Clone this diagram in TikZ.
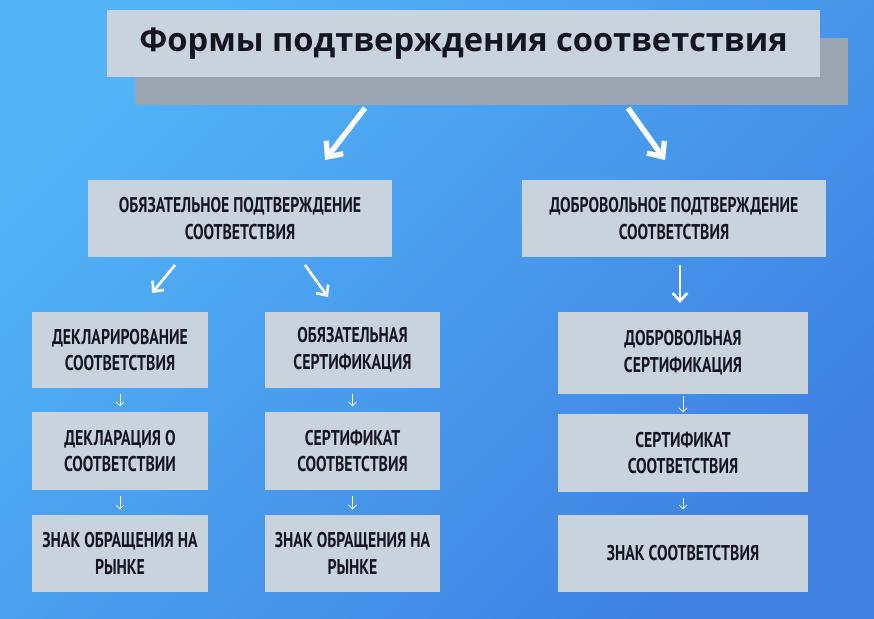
\documentclass[tikz,border=0pt]{standalone}
\usepackage{fontspec}
\setmainfont{PT Sans}[FakeStretch=0.74]
\newfontfamily\titlefont{Open Sans}
\usetikzlibrary{arrows.meta}
\definecolor{boxgray}{HTML}{C9D3DD}
\definecolor{shadowgray}{HTML}{9AA5B1}
\definecolor{bgtop}{HTML}{52B3F7}
\definecolor{bgbot}{HTML}{3F82E2}
\definecolor{inkdark}{HTML}{15151F}

\begin{document}
\begin{tikzpicture}[x=0.75pt,y=-0.75pt,
  box/.style={fill=boxgray,text=inkdark,font=\bfseries\fontsize{16}{20}\selectfont,align=center,inner sep=0pt},
  bigarrow/.style={draw=white,line width=4pt,-{Straight Barb[length=9pt,width=16pt]}},
  midarrow/.style={draw=white,line width=2pt,-{Straight Barb[length=6pt,width=11pt]}},
  smallarrow/.style={draw=white,line width=0.6pt,-{Straight Barb[length=3pt,width=6pt]}}]
\shade[left color=bgtop,right color=bgbot,shading angle=45] (0,0) rectangle (874,618);
\useasboundingbox (0,0) rectangle (874,618);
% title
\fill[shadowgray] (135,38) rectangle (848,105);
\node[box,minimum width=713*0.75pt,minimum height=67*0.75pt,font=\titlefont\bfseries\fontsize{24.5}{28}\selectfont] (title) at (463.5,43.5) {Формы подтверждения соответствия};
% second level
\node[box,minimum width=304*0.75pt,minimum height=77*0.75pt] (obyaz) at (240,218.5) {ОБЯЗАТЕЛЬНОЕ ПОДТВЕРЖДЕНИЕ\\СООТВЕТСТВИЯ};
\node[box,minimum width=304*0.75pt,minimum height=77*0.75pt] (dobr) at (674,218.5) {ДОБРОВОЛЬНОЕ ПОДТВЕРЖДЕНИЕ\\СООТВЕТСТВИЯ};
% columns
\node[box,minimum width=176*0.75pt,minimum height=76*0.75pt] (decl) at (120,350) {ДЕКЛАРИРОВАНИЕ\\СООТВЕТСТВИЯ};
\node[box,minimum width=176*0.75pt,minimum height=78*0.75pt] (declz) at (120,451) {ДЕКЛАРАЦИЯ О\\СООТВЕТСТВИИ};
\node[box,minimum width=176*0.75pt,minimum height=77*0.75pt] (znak1) at (120,553.5) {ЗНАК ОБРАЩЕНИЯ НА\\РЫНКЕ};
\node[box,minimum width=175*0.75pt,minimum height=76*0.75pt] (osert) at (352.5,350) {ОБЯЗАТЕЛЬНАЯ\\СЕРТИФИКАЦИЯ};
\node[box,minimum width=175*0.75pt,minimum height=78*0.75pt] (sert1) at (352.5,451) {СЕРТИФИКАТ\\СООТВЕТСТВИЯ};
\node[box,minimum width=175*0.75pt,minimum height=77*0.75pt] (znak2) at (352.5,553.5) {ЗНАК ОБРАЩЕНИЯ НА\\РЫНКЕ};
\node[box,minimum width=250*0.75pt,minimum height=82*0.75pt] (dsert) at (683,353) {ДОБРОВОЛЬНАЯ\\СЕРТИФИКАЦИЯ};
\node[box,minimum width=250*0.75pt,minimum height=78*0.75pt] (sert2) at (683,453) {СЕРТИФИКАТ\\СООТВЕТСТВИЯ};
\node[box,minimum width=250*0.75pt,minimum height=77*0.75pt] (znak3) at (683,553.5) {ЗНАК СООТВЕТСТВИЯ};
% arrows
\coordinate (a1) at (365,108); \coordinate (a2) at (325,160);
\coordinate (b1) at (628,108); \coordinate (b2) at (665,160);
\draw[bigarrow] (a1) -- (a2);
\draw[bigarrow] (b1) -- (b2);
\coordinate (c1) at (175,265); \coordinate (c2) at (152,293);
\coordinate (d1) at (305,265); \coordinate (d2) at (328,297);
\coordinate (e1) at (680,265); \coordinate (e2) at (680,303);
\draw[midarrow] (c1) -- (c2);
\draw[midarrow] (d1) -- (d2);
\draw[midarrow] (e1) -- (e2);
\draw[smallarrow] ([yshift=-4pt]decl.south) -- ([yshift=4pt]declz.north);
\draw[smallarrow] ([yshift=-4pt]declz.south) -- ([yshift=4pt]znak1.north);
\draw[smallarrow] ([yshift=-4pt]osert.south) -- ([yshift=4pt]sert1.north);
\draw[smallarrow] ([yshift=-4pt]sert1.south) -- ([yshift=4pt]znak2.north);
\draw[smallarrow] ([yshift=-1pt]dsert.south) -- ([yshift=1pt]sert2.north);
\draw[smallarrow] ([yshift=-4pt]sert2.south) -- ([yshift=4pt]znak3.north);
\end{tikzpicture}
\end{document}
